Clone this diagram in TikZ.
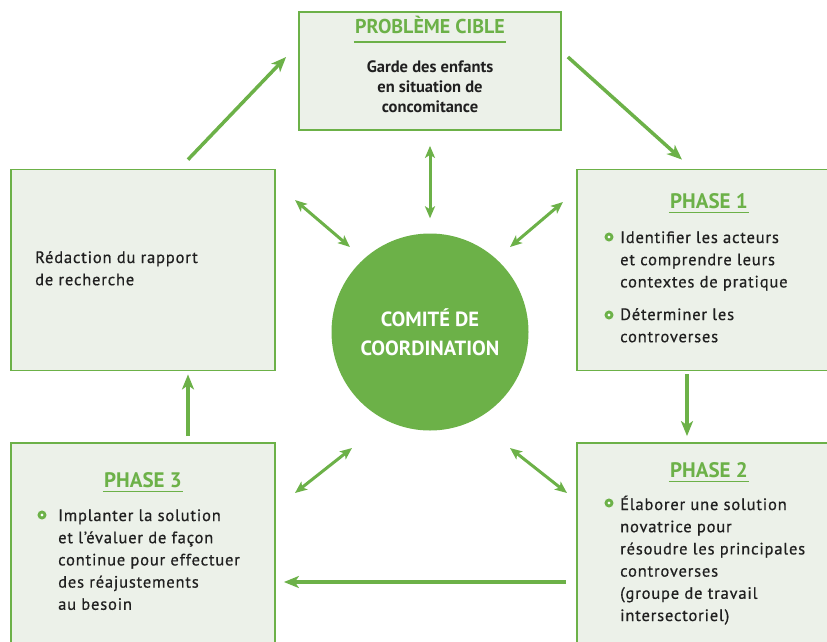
\documentclass[tikz,border=0pt]{standalone}
\usepackage{fontspec}
\setmainfont{PT Sans}
\newfontfamily\bodyfont{PT Sans}[LetterSpace=5, FakeBold=0.6]
\usetikzlibrary{arrows.meta}

\definecolor{leafgreen}{RGB}{108,177,72}
\definecolor{boxfill}{RGB}{236,241,233}
\definecolor{inkgray}{RGB}{32,32,32}

\begin{document}
\begin{tikzpicture}[x=1pt, y=-1pt,
  panel/.style={draw=leafgreen, line width=1.8pt, fill=boxfill, inner sep=0pt},
  heading/.style={text=leafgreen, font=\bfseries\fontsize{21}{24}\selectfont, inner xsep=1pt, inner ysep=0pt, anchor=base},
  itemtext/.style={text=inkgray, font=\bodyfont\fontsize{16.5}{22.2}\selectfont, inner sep=0pt, anchor=base west},
  ring/.style={circle, draw=leafgreen, line width=2.8pt, fill=white, minimum size=6pt, inner sep=0pt},
  rule/.style={leafgreen, line width=1.6pt},
  flow/.style={leafgreen, line width=3.5pt, -{Stealth[length=15pt,width=12pt,inset=4pt]}},
  link/.style={leafgreen, line width=3pt, {Stealth[length=12pt,width=10pt,inset=3pt]}-{Stealth[length=12pt,width=10pt,inset=3pt]}}]
\newcommand{\stack}[1]{\parbox[t]{220pt}{\raggedright #1}};
\newcommand{\midstack}[1]{\parbox[t]{220pt}{\centering #1}};
\newcommand{\uloff}{4.5pt};

% page
\clip (0,0) rectangle (827,641);

% boxes
\node[panel, minimum width=262pt, minimum height=118pt] (cible) at (430,71) {};
\node[panel, minimum width=264pt, minimum height=201pt] (redac) at (143,270) {};
\node[panel, minimum width=262pt, minimum height=201pt] (phaseA) at (708,270) {};
\node[panel, minimum width=262pt, minimum height=220pt] (phaseB) at (708,553) {};
\node[panel, minimum width=264pt, minimum height=220pt] (phaseC) at (143,553) {};

% centre
\node[circle, fill=leafgreen, minimum size=197pt, inner sep=0pt, text=white, align=center,
  font=\bfseries\fontsize{20.5}{29}\selectfont] (comite) at (430,332) {COMITÉ DE\\COORDINATION};

% headings
\node[heading, font=\bfseries\fontsize{20}{22}\selectfont] (hCible) at (430,33) {PROBLÈME CIBLE};
\draw[rule] ([yshift=-9pt]hCible.base west) -- ([yshift=-9pt]hCible.base east);
\node[heading] (hA) at (709,208) {PHASE 1};
\draw[rule] ([yshift=-\uloff]hA.base west) -- ([yshift=-\uloff]hA.base east);
\node[heading] (hB) at (709,477) {PHASE 2};
\draw[rule] ([yshift=-\uloff]hB.base west) -- ([yshift=-\uloff]hB.base east);
\node[heading] (hC) at (143,487) {PHASE 3};
\draw[rule] ([yshift=-\uloff]hC.base west) -- ([yshift=-\uloff]hC.base east);

% texts
\node[itemtext, anchor=base, font=\bfseries\fontsize{16.5}{20}\selectfont] (tCible) at (430,72)
  {\midstack{Garde des enfants\\en situation de\\concomitance}};
\node[itemtext] (tRedac) at (35,263) {\stack{Rédaction du rapport\\de recherche}};
\node[ring] (dA1) at (609,237) {};
\node[itemtext] (tA1) at (620,243) {\stack{Identifier les acteurs\\et comprendre leurs\\contextes de pratique}};
\node[ring] (dA2) at (609,315) {};
\node[itemtext] (tA2) at (620,320) {\stack{Déterminer les\\controverses}};
\node[ring] (dB1) at (609,503) {};
\node[itemtext] (tB1) at (620,510) {\stack{Élaborer une solution\\novatrice pour\\résoudre les principales\\controverses\\(groupe de travail\\intersectoriel)}};
\node[ring] (dC1) at (42,515) {};
\node[itemtext] (tC1) at (58,521) {\stack{Implanter la solution\\et l’évaluer de façon\\continue pour effectuer\\des réajustements\\au besoin}};

% cycle
\draw[flow] ([xshift=45pt,yshift=9pt]redac.north) -- ([xshift=-12pt,yshift=14pt]cible.west);
\draw[flow] ([xshift=6pt,yshift=14pt]cible.east) -- ([xshift=-26pt,yshift=9pt]phaseA.north);
\draw[flow] ([xshift=-21pt,yshift=-3pt]phaseA.south) -- ([xshift=-21pt,yshift=6pt]phaseB.north);
\draw[flow] ([xshift=-10pt,yshift=-29pt]phaseB.west) -- ([xshift=8pt,yshift=-29pt]phaseC.east);
\draw[flow] ([xshift=45pt,yshift=6pt]phaseC.north) -- ([xshift=45pt,yshift=-3pt]redac.south);

% coordination links
\coordinate (ulIn) at (350,247); \coordinate (ulOut) at (295,200);
\coordinate (urIn) at (510,247); \coordinate (urOut) at (563,202);
\coordinate (llIn) at (352,448); \coordinate (llOut) at (295,493);
\coordinate (lrIn) at (510,448); \coordinate (lrOut) at (567,493);
\draw[link] ([yshift=15pt]comite.north) -- ([yshift=-15pt]cible.south);
\draw[link] (ulIn) -- (ulOut);
\draw[link] (urIn) -- (urOut);
\draw[link] (llIn) -- (llOut);
\draw[link] (lrIn) -- (lrOut);
%
\end{tikzpicture}
\end{document}
